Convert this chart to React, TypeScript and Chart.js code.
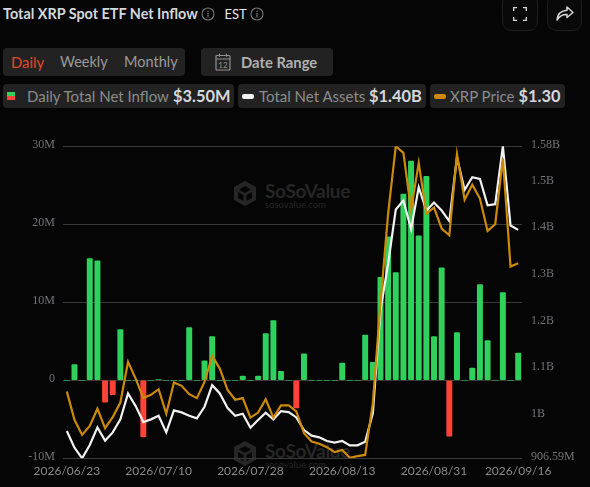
import React, { useEffect, useRef } from "react";
import { Chart, registerables } from "chart.js";

Chart.register(...registerables);

const dates = [
  "2026/06/23", "2026/06/24", "2026/06/25", "2026/06/26", "2026/06/29", "2026/06/30",
  "2026/07/01", "2026/07/02", "2026/07/06", "2026/07/07", "2026/07/08", "2026/07/09",
  "2026/07/10", "2026/07/13", "2026/07/14", "2026/07/15", "2026/07/16", "2026/07/17",
  "2026/07/20", "2026/07/21", "2026/07/22", "2026/07/23", "2026/07/24", "2026/07/27",
  "2026/07/28", "2026/07/29", "2026/07/30", "2026/07/31", "2026/08/03", "2026/08/04",
  "2026/08/05", "2026/08/06", "2026/08/07", "2026/08/10", "2026/08/11", "2026/08/12",
  "2026/08/13", "2026/08/14", "2026/08/17", "2026/08/18", "2026/08/19", "2026/08/20",
  "2026/08/21", "2026/08/24", "2026/08/25", "2026/08/26", "2026/08/27", "2026/08/28",
  "2026/08/31", "2026/09/01", "2026/09/02", "2026/09/03", "2026/09/04", "2026/09/08",
  "2026/09/09", "2026/09/10", "2026/09/11", "2026/09/14", "2026/09/15", "2026/09/16",
];

const shownDates = ["2026/06/23", "2026/07/10", "2026/07/28", "2026/08/13", "2026/08/31", "2026/09/16"];

// net inflow, millions of USD
const netInflow = [
  0, 2.0, 0, 15.6, 15.3, -2.8, -1.85, 6.5, 0, 0,
  -7.25, 0, 0.1, 0, 0, 0, 6.75, 0, 2.5, 5.6,
  0, 0, 0, 0.55, 0, 0.55, 6.0, 7.65, 1.15, 0,
  -3.55, 3.4, 0, 0, 0, 0, 2.2, 0, 0, 5.8,
  2.3, 13.2, 18.4, 13.8, 23.85, 28.1, 18.5, 26.15, 5.6, 14.4,
  -7.15, 6.1, 0, 1.55, 12.25, 5.1, 0, 11.25, 0, 3.5,
];

// total net assets, millions of USD
const netAssets = [
  965.1, 929.4, 906.6, 935.1, 972.9, 944.4, 962.2, 990.1, 1045.7, 1018.6,
  984.3, 990.1, 997.9, 962.2, 1009.3, 1005.1, 997.9, 992.2, 1017.2, 1063.5,
  1045.7, 1015, 997.9, 1002.2, 972.2, 988.7, 1004.4, 990.1, 1007.9, 1005.8,
  994.3, 967.2, 955.1, 951.6, 943.7, 940.1, 943.7, 934.4, 934.4, 942.2,
  1002.9, 1224, 1323.9, 1440.2, 1459.5, 1398.1, 1488, 1438, 1455.2, 1438,
  1415.2, 1552.2, 1482.3, 1509.4, 1505.8, 1449.4, 1451.6, 1576, 1406, 1396.6,
];

const xrpPrice = [
  1.07, 1.019, 0.992, 1.008, 1.039, 1.004, 1.024, 1.05, 1.123, 1.093,
  1.058, 1.064, 1.074, 1.03, 1.086, 1.08, 1.065, 1.058, 1.087, 1.134,
  1.111, 1.073, 1.055, 1.058, 1.023, 1.032, 1.056, 1.023, 1.045, 1.045,
  1.034, 0.995, 0.98, 0.976, 0.97, 0.961, 0.965, 0.951, 0.954, 0.956,
  1.049, 1.228, 1.389, 1.51, 1.498, 1.395, 1.48, 1.389, 1.4, 1.362,
  1.35, 1.496, 1.414, 1.441, 1.416, 1.358, 1.37, 1.488, 1.294, 1.3,
];

const leftTicks = [-10, 0, 10, 20, 30];
const rightTicks = [906.59, 1000, 1100, 1200, 1300, 1400, 1500, 1576];

const GREEN = "#2fd15c";
const RED = "#ff4238";
const WHITE = "#f2f2f2";
const GOLD = "#cc8a06";
const AXIS_TEXT = "#737377";

const rightLabel = (v: number) => {
  if (v < 1000) return v.toFixed(2) + "M";
  return Number((v / 1000).toFixed(2)) + "B";
};

const Watermark = ({ top }: { top: number }) => (
  <div style={{ position: "absolute", left: 233, top, width: 125, height: 30, color: "#262626" }}>
    <svg width="24" height="27" viewBox="0 0 24 27" style={{ position: "absolute", left: 0, top: 0 }}>
      <path d="M12 1 L23 7 V20 L12 26 L1 20 V7 Z M12 6 L6 9.5 L12 13 L18 9.5 Z M5 12 V18 L10.5 21 V15 Z M19 12 L13.5 15 V21 L19 18 Z" fill="#262626" fillRule="evenodd" />
    </svg>
    <div style={{ position: "absolute", left: 32, top: 1, fontSize: 19, fontWeight: 700, lineHeight: "20px", letterSpacing: -0.3 }}>SoSoValue</div>
    <div style={{ position: "absolute", left: 32, top: 20, fontSize: 9.5, lineHeight: "10px" }}>sosovalue.com</div>
  </div>
);

const InfoIcon = ({ left }: { left: number }) => (
  <svg width="14" height="14" viewBox="0 0 14 14" style={{ position: "absolute", left, top: 7 }}>
    <circle cx="7" cy="7" r="6" fill="none" stroke="#777" strokeWidth="1.1" />
    <rect x="6.4" y="6" width="1.2" height="4.4" fill="#777" />
    <rect x="6.4" y="3.7" width="1.2" height="1.3" fill="#777" />
  </svg>
);

const panel: React.CSSProperties = { position: "absolute", background: "#222223", borderRadius: 4 };
const iconBox: React.CSSProperties = { position: "absolute", top: -6, height: 37, border: "1px solid #1f1f1f", borderRadius: 9, background: "#090909", boxSizing: "border-box" };
const abs = (left: number, top: number, color: string, fontSize: number, fontWeight = 400): React.CSSProperties => ({
  position: "absolute", left, top, color, fontSize, fontWeight, lineHeight: "18px", whiteSpace: "nowrap",
});

export default function App() {
  const canvasRef = useRef<HTMLCanvasElement>(null);

  useEffect(() => {
    document.body.style.margin = "0";
    document.body.style.background = "#050505";
    const chart = new Chart(canvasRef.current!, {
      type: "bar",
      data: {
        labels: dates,
        datasets: [
          {
            type: "line", label: "XRP Price", data: xrpPrice, yAxisID: "price", order: 1,
            borderColor: GOLD, borderWidth: 2.2, pointRadius: 0, tension: 0,
          },
          {
            type: "line", label: "Total Net Assets", data: netAssets, yAxisID: "assets", order: 2,
            borderColor: WHITE, borderWidth: 2.2, pointRadius: 0, tension: 0,
          },
          {
            type: "bar", label: "Daily Total Net Inflow", data: netInflow, yAxisID: "flow", order: 3,
            backgroundColor: netInflow.map((v) => (v < 0 ? RED : GREEN)),
            barThickness: 5.3, borderRadius: 1,
            borderSkipped: false,
          },
        ],
      },
      options: {
        responsive: false,
        animation: false,
        layout: { padding: { top: 16 } },
        plugins: { legend: { display: false }, tooltip: { enabled: false } },
        scales: {
          x: {
            grid: { display: false, drawTicks: false },
            border: { display: false },
            afterFit: (s: any) => { s.height = 28.7; },
            ticks: {
              autoSkip: false, maxRotation: 0, padding: 6,
              color: "#8a8a8a", font: { family: "Lato", size: 12 },
              callback: (_v: any, i: number) => (shownDates.includes(dates[i]) ? dates[i] : ""),
            },
          },
          flow: {
            position: "left", min: -10, max: 30,
            grid: { color: "#3a3a3a", lineWidth: 1, drawTicks: false },
            border: { display: false },
            afterBuildTicks: (s: any) => { s.ticks = leftTicks.map((value) => ({ value })); },
            afterFit: (s: any) => { s.width = 63; },
            ticks: {
              padding: 8, labelOffset: -1, color: AXIS_TEXT, font: { family: "Liberation Serif", size: 12 },
              callback: (v: any) => (v === 0 ? "0" : v + "M"),
            },
          },
          assets: {
            position: "right", min: 906.59, max: 1576,
            grid: { display: false, drawTicks: false },
            border: { display: false },
            afterBuildTicks: (s: any) => { s.ticks = rightTicks.map((value) => ({ value })); },
            afterFit: (s: any) => { s.width = 68; },
            ticks: {
              padding: 9, labelOffset: -1, color: AXIS_TEXT, font: { family: "Liberation Serif", size: 12 },
              callback: (v: any) => rightLabel(v),
            },
          },
          price: { display: false, min: 0.95, max: 1.51 },
        },
      },
    });
    return () => chart.destroy();
  }, []);

  return (
    <div style={{ position: "relative", width: 590, height: 487, overflow: "hidden", background: "#050505", fontFamily: "Lato, sans-serif" }}>
      <div style={abs(3, 5, "#d4d8dc", 14.4, 700)}>Total XRP Spot ETF Net Inflow</div>
      <InfoIcon left={201} />
      <div style={abs(224.5, 5, "#e8e8e8", 13)}>EST</div>
      <InfoIcon left={250} />

      <div style={{ ...iconBox, left: 502, width: 36 }} />
      <svg width="14" height="14" viewBox="0 0 14 14" style={{ position: "absolute", left: 513.3, top: 7 }}>
        <path d="M0.7 4 V0.7 H4 M10 0.7 H13.3 V4 M13.3 10 V13.3 H10 M4 13.3 H0.7 V10" fill="none" stroke="#d8d8d8" strokeWidth="1.3" />
      </svg>
      <div style={{ ...iconBox, left: 546.5, width: 35.5 }} />
      <svg width="18" height="15" viewBox="0 0 18 15" style={{ position: "absolute", left: 555.5, top: 5.5 }}>
        <path d="M11 1 L17 6.5 L11 11.5 V8.4 C6.5 8.2 3.5 10 1 14 C1.5 8.5 5 4.8 11 4.3 Z" fill="none" stroke="#d8d8d8" strokeWidth="1.5" strokeLinejoin="round" />
      </svg>

      <div style={{ ...panel, left: 3, top: 48, width: 182, height: 28 }} />
      <div style={abs(11, 53, "#e8452a", 14.8)}>Daily</div>
      <div style={abs(60, 53, "#9a9a9a", 14.5)}>Weekly</div>
      <div style={abs(124, 53, "#9a9a9a", 14.5)}>Monthly</div>

      <div style={{ ...panel, left: 201, top: 48, width: 132, height: 28 }} />
      <svg width="16" height="18" viewBox="0 0 16 18" style={{ position: "absolute", left: 214.5, top: 52.5 }}>
        <rect x="1" y="2.5" width="14" height="14.5" rx="1" fill="none" stroke="#909090" strokeWidth="1.2" />
        <path d="M1 6 H15 M4.5 0.8 V3.8 M11.5 0.8 V3.8" stroke="#909090" strokeWidth="1.2" />
        <text x="8" y="15" textAnchor="middle" fontSize="8" fill="#909090" fontFamily="Lato">12</text>
      </svg>
      <div style={abs(241, 53, "#b0b0b0", 14.8, 700)}>Date Range</div>

      <div style={{ ...panel, left: 3, top: 84, width: 231, height: 24 }} />
      <div style={{ position: "absolute", left: 7, top: 92, width: 8, height: 4, background: GREEN }} />
      <div style={{ position: "absolute", left: 7, top: 96, width: 8, height: 4, background: RED }} />
      <div style={abs(27, 87, "#8c8c8c", 15)}>Daily Total Net Inflow</div>
      <div style={abs(173, 87, "#d4d8dc", 16.4, 700)}>$3.50M</div>

      <div style={{ ...panel, left: 238, top: 84, width: 188, height: 24 }} />
      <div style={{ position: "absolute", left: 242, top: 94, width: 12, height: 4.5, borderRadius: 2, background: WHITE }} />
      <div style={abs(259, 87, "#8c8c8c", 15)}>Total Net Assets</div>
      <div style={abs(369, 87, "#d4d8dc", 16.4, 700)}>$1.40B</div>

      <div style={{ ...panel, left: 430, top: 84, width: 135, height: 24 }} />
      <div style={{ position: "absolute", left: 434, top: 94, width: 12, height: 4.5, borderRadius: 2, background: GOLD }} />
      <div style={abs(450, 87, "#8c8c8c", 15)}>XRP Price</div>
      <div style={abs(518.5, 87, "#d4d8dc", 16.4, 700)}>$1.30</div>

      <Watermark top={180} />
      <Watermark top={440} />
      <canvas ref={canvasRef} width={590} height={357} style={{ position: "absolute", left: 0, top: 130, display: "block" }} />
    </div>
  );
}
